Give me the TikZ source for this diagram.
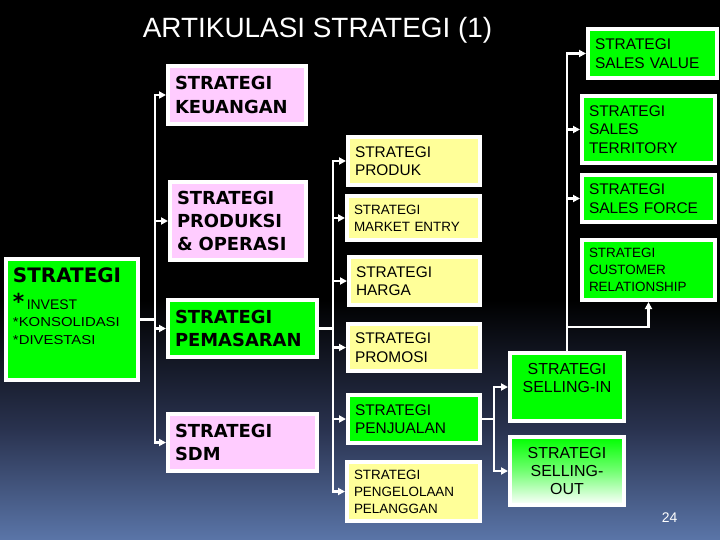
\documentclass[tikz,border=0pt]{standalone}
\usepackage{fontspec}
\usepackage{graphicx}
\setmainfont{Liberation Sans}
\newfontfamily\dvs{DejaVu Sans}
\usetikzlibrary{arrows.meta}
\definecolor{pk}{HTML}{FFCCFF}
\definecolor{yl}{HTML}{FFFF99}
\definecolor{gr}{HTML}{00FF00}
\definecolor{bgmid}{HTML}{2A3350}
\definecolor{bgbot}{HTML}{5A75A8}
\begin{document}
\begin{tikzpicture}[x=1bp,y=-1bp,
 bx/.style={draw=white, line width=4bp, inner xsep=7bp, inner ysep=0bp, align=left, text=black},
 big/.style={font=\dvs\bfseries\fontsize{18}{23.5}\selectfont},
 med/.style={font=\fontsize{15.5}{18.5}\selectfont},
 sml/.style={font=\fontsize{13.5}{17}\selectfont},
 sel/.style={font=\fontsize{16}{18.5}\selectfont, align=center},
 conn/.style={draw=white, line width=2.2bp, line cap=rect},
 arr/.style={conn, -{Triangle[length=7bp,width=7bp]}},
]
% background
\useasboundingbox (0,0) rectangle (720,540);
\fill[black] (0,0) rectangle (720,540);
\shade[top color=black, bottom color=bgmid] (0,300) rectangle (720,431);
\shade[top color=bgmid, bottom color=bgbot] (0,430) rectangle (720,540);

% title and page number
\node[text=white, font=\fontsize{28}{30}\selectfont, anchor=base, inner sep=0pt] (title) at (317.5,38) {ARTIKULASI STRATEGI (1)};
\node[text=white, font=\fontsize{14}{16}\selectfont, anchor=base, inner sep=0pt] (pg) at (669.5,522) {24};

% left column
\node[bx, fill=gr, minimum width=132bp, minimum height=121bp] (strat) at (72,319.5)
 {\parbox[c][103bp][t]{118bp}{%
   {\dvs\bfseries\fontsize{20}{20}\selectfont STRATEGI\par}%
   {\fontsize{14}{27}\selectfont{\dvs\bfseries\fontsize{22}{27}\selectfont *}\,INVEST\par}%
   {\fontsize{13}{17}\selectfont\scalebox{1.15}[1]{*KONSOLIDASI}\par}%
   {\fontsize{13}{18}\selectfont\scalebox{1.15}[1]{*DIVESTASI}\par}}};

% second column
\node[bx, big, fill=pk, text width=124bp, minimum height=58bp] (keu) at (237,95) {STRATEGI\\KEUANGAN};
\node[bx, big, fill=pk, text width=122bp, minimum height=78bp] (prod) at (238,221) {STRATEGI\\PRODUKSI\\\& OPERASI};
\node[bx, big, fill=gr, text width=135bp, minimum height=57bp] (pem) at (242.5,328.5) {STRATEGI\\PEMASARAN};
\node[bx, big, fill=pk, text width=135bp, minimum height=57bp] (sdm) at (242.5,442.5) {STRATEGI\\SDM};

% third column
\node[bx, med, fill=yl, text width=118bp, minimum height=48bp] (produk) at (414,161) {STRATEGI\\PRODUK};
\node[bx, sml, fill=yl, text width=119bp, minimum height=44bp] (market) at (413.5,218) {STRATEGI\\MARKET ENTRY};
\node[bx, med, fill=yl, text width=117bp, minimum height=48bp] (harga) at (414.5,281) {STRATEGI\\HARGA};
\node[bx, med, fill=yl, text width=118bp, minimum height=47bp] (promosi) at (414,347.5) {STRATEGI\\PROMOSI};
\node[bx, med, fill=gr, text width=118bp, minimum height=48bp] (penj) at (414,419) {STRATEGI\\PENJUALAN};
\node[bx, sml, fill=yl, text width=119bp, minimum height=59bp] (pengel) at (413.5,491.5) {STRATEGI\\PENGELOLAAN\\PELANGGAN};

% selling
\node[bx, sel, fill=gr, text width=100bp, minimum height=68bp] (sellin) at (567,387) {STRATEGI\\SELLING-IN\\\mbox{}};
\node[bx, sel, top color=gr, bottom color=white, middle color=gr!55!white, text width=100bp, minimum height=68bp] (sellout) at (567,471) {STRATEGI\\SELLING-\\OUT};

% right column
\node[bx, med, fill=gr, text width=115bp, minimum height=49bp] (value) at (652.5,53.5) {STRATEGI\\SALES VALUE};
\node[bx, med, fill=gr, text width=119bp, minimum height=67bp] (terr) at (648.5,129.5) {STRATEGI\\SALES\\TERRITORY};
\node[bx, med, fill=gr, text width=119bp, minimum height=47bp] (force) at (648.5,198.5) {STRATEGI\\SALES FORCE};
\node[bx, sml, fill=gr, text width=119bp, minimum height=60bp] (cust) at (648.5,270) {STRATEGI\\CUSTOMER\\RELATIONSHIP};

% connectors
\coordinate (t1) at (155,0);
\coordinate (t2) at (333,0);
\coordinate (t3) at (494,0);
\coordinate (cj) at (567,327);

\draw[conn] (strat.east) -- (strat.east -| t1);
\draw[conn] (keu.west -| t1) -- (sdm.west -| t1);
\foreach \n in {keu,prod,pem,sdm} \draw[arr] (\n.west -| t1) -- (\n.west);

\draw[conn] (pem.east) -- (pem.east -| t2);
\draw[conn] (produk.west -| t2) -- (pengel.west -| t2);
\foreach \n in {produk,market,harga,promosi,penj,pengel} \draw[arr] (\n.west -| t2) -- (\n.west);

\draw[conn] (penj.east) -- (penj.east -| t3);
\draw[conn] (sellin.west -| t3) -- (sellout.west -| t3);
\foreach \n in {sellin,sellout} \draw[arr] (\n.west -| t3) -- (\n.west);

\draw[conn] (sellin.north) -- (value.west -| sellin.north);
\foreach \n in {value,terr,force} \draw[arr] (\n.west -| sellin.north) -- (\n.west);
\draw[arr] (cj) -| (cust.south);
\end{tikzpicture}
\end{document}
